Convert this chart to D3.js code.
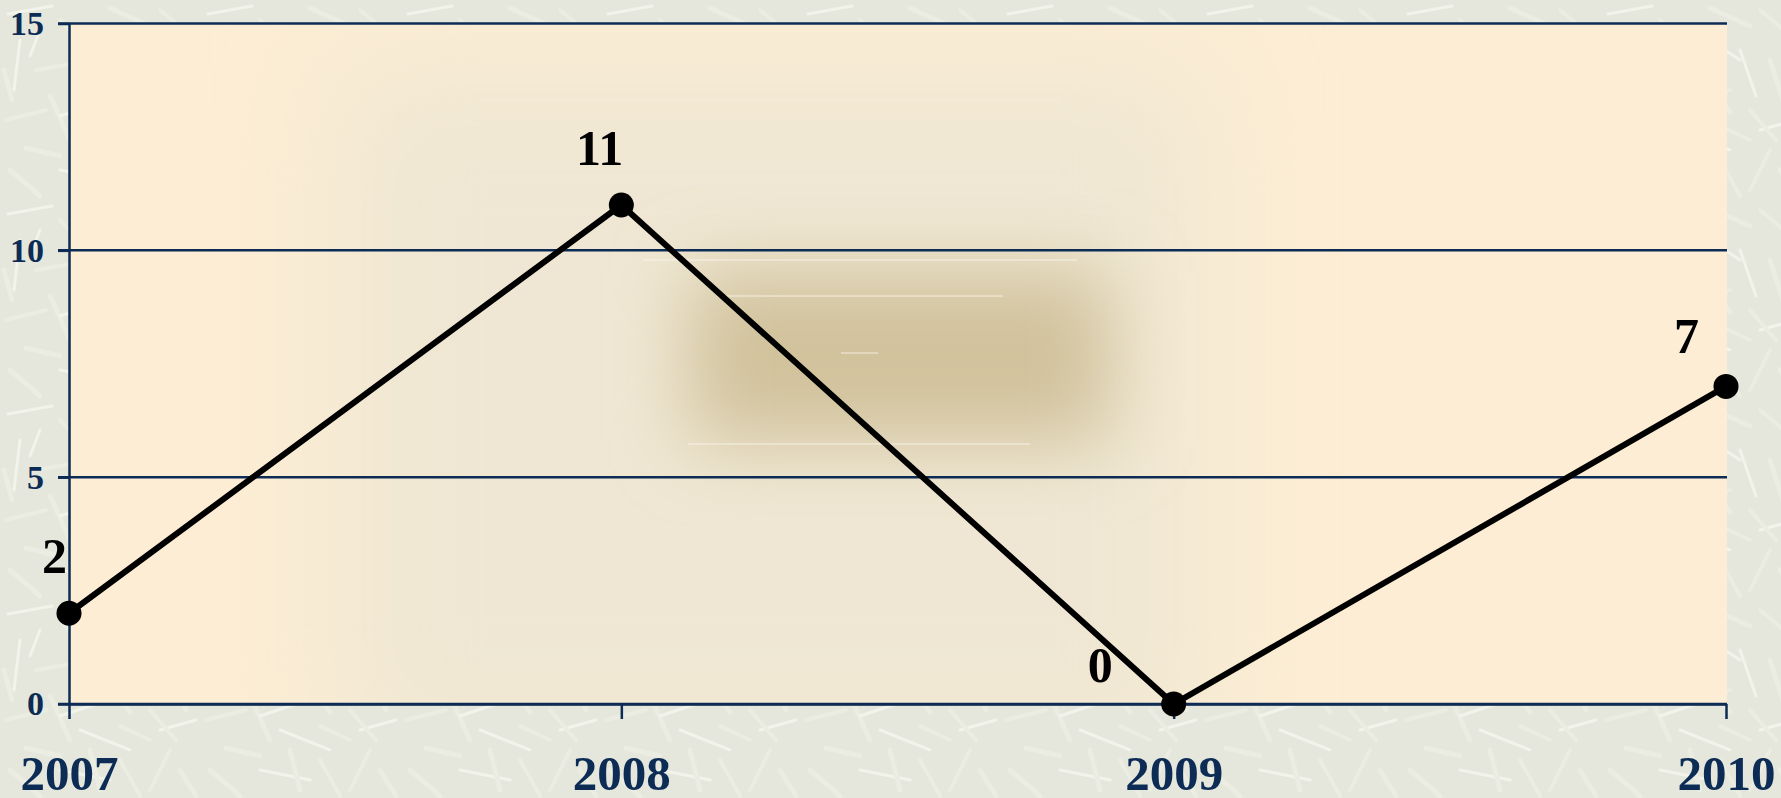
<!DOCTYPE html>
<html>
<head>
<meta charset="utf-8">
<script src="https://cdn.jsdelivr.net/npm/d3@7/dist/d3.min.js"></script>
<style>
  body { margin: 0; overflow: hidden; }
  svg { display: block; }
</style>
</head>
<body>
<div id="chart"></div>
<script>
// data
let years = ['2007', '2008', '2009', '2010'];
let values = [2, 11, 0, 7];
let y_ticks = [0, 5, 10, 15];

// label placement around each point (dx, dy from the marker), set by hand like the original
let label_offsets = [[-2, -40], [2, -40], [-61, -22], [-27, -33]];

let svg_width = 1781;
let svg_height = 798;

let plot_left = 69;
let plot_right = 1727;
let plot_top = 23.5;
let plot_bottom = 704;

let navy = '#0c2b55';
let serif = 'Times New Roman, Liberation Serif, serif';

let svg = d3.select('#chart')
    .append('svg')
    .attr('width', svg_width)
    .attr('height', svg_height);

let defs = svg.append('defs');

// scratchy grey-green texture of the slide background
let pat = defs.append('pattern')
    .attr('id', 'texture')
    .attr('width', 200)
    .attr('height', 200)
    .attr('patternUnits', 'userSpaceOnUse');
pat.append('rect').attr('width', 200).attr('height', 200).attr('fill', '#e5e7dc');
let scratches = [
    [8, 14, 52, 6], [60, 20, 96, 58], [110, 8, 150, 26], [20, 40, 14, 90],
    [36, 70, 84, 62], [100, 70, 130, 112], [140, 50, 156, 96], [6, 120, 46, 110],
    [50, 96, 70, 140], [80, 130, 130, 150], [120, 126, 150, 140], [26, 148, 60, 156],
    [90, 30, 70, 48], [130, 90, 104, 100], [4, 70, 12, 100], [60, 116, 96, 104],
    [160, 10, 196, 40], [170, 60, 186, 110], [160, 130, 196, 120], [170, 150, 150, 190],
    [10, 170, 40, 196], [60, 170, 110, 180], [120, 160, 140, 196], [180, 170, 196, 196],
    [40, 30, 30, 56], [150, 110, 176, 140], [90, 150, 100, 190], [110, 40, 140, 60]
];
pat.selectAll('line')
    .data(scratches)
    .enter()
    .append('line')
    .attr('x1', d => d[0]).attr('y1', d => d[1])
    .attr('x2', d => d[2]).attr('y2', d => d[3])
    .attr('stroke', (d, i) => i % 3 === 0 ? '#f2f3ea' : '#ebede3')
    .attr('stroke-width', (d, i) => 3 + (i % 3))
    .attr('stroke-linecap', 'round');

defs.append('filter').attr('id', 'blur_big')
    .attr('x', '-50%').attr('y', '-50%').attr('width', '200%').attr('height', '200%')
    .append('feGaussianBlur').attr('stdDeviation', 60);
defs.append('filter').attr('id', 'blur_small')
    .attr('x', '-50%').attr('y', '-50%').attr('width', '200%').attr('height', '200%')
    .append('feGaussianBlur').attr('stdDeviation', 38);

defs.append('clipPath').attr('id', 'plot_clip')
    .append('rect')
    .attr('x', plot_left).attr('y', plot_top)
    .attr('width', plot_right - plot_left).attr('height', plot_bottom - plot_top);

svg.append('rect')
    .attr('width', svg_width)
    .attr('height', svg_height)
    .attr('fill', 'url(#texture)');

// scales
let x = d3.scalePoint()
    .domain(years)
    .range([plot_left, plot_right - 1])
    .padding(0);

let y = d3.scaleLinear()
    .domain([0, 15])
    .range([plot_bottom, plot_top]);

// plot area with its blurry brownish centre
let plot_bg = svg.append('g').attr('clip-path', 'url(#plot_clip)');
plot_bg.append('rect')
    .attr('x', plot_left).attr('y', plot_top)
    .attr('width', plot_right - plot_left).attr('height', plot_bottom - plot_top)
    .attr('fill', '#fcedd4');
plot_bg.append('rect')
    .attr('x', 340).attr('y', 70)
    .attr('width', 860).attr('height', 690)
    .attr('fill', '#efe7d3')
    .attr('filter', 'url(#blur_big)');
plot_bg.append('rect')
    .attr('x', 690).attr('y', 272)
    .attr('width', 420).attr('height', 170)
    .attr('fill', '#d1c29c')
    .attr('filter', 'url(#blur_small)');

// faint white streaks left in the centre
let streaks = [[643, 1077, 260], [717, 1003, 296], [688, 1030, 444], [841, 878, 353]];
plot_bg.selectAll('.streak')
    .data(streaks)
    .enter()
    .append('line')
    .attr('class', 'streak')
    .attr('x1', d => d[0]).attr('x2', d => d[1])
    .attr('y1', d => d[2]).attr('y2', d => d[2])
    .attr('stroke', '#fbf8ee')
    .attr('stroke-width', 1.2)
    .attr('opacity', 0.8);

// horizontal gridlines (tick stubs stick out to the left)
svg.selectAll('.grid')
    .data(y_ticks)
    .enter()
    .append('line')
    .attr('class', 'grid')
    .attr('x1', plot_left - 11)
    .attr('x2', plot_right)
    .attr('y1', d => y(d))
    .attr('y2', d => y(d))
    .attr('stroke', navy)
    .attr('stroke-width', 2.5);

// y axis
let y_axis = svg.append('g')
    .attr('transform', 'translate(' + plot_left + ',0)')
    .call(d3.axisLeft(y).tickValues(y_ticks).tickSize(11).tickSizeOuter(0).tickPadding(14));
y_axis.select('.domain').attr('stroke', navy).attr('stroke-width', 2.5);
y_axis.selectAll('line').attr('stroke', navy).attr('stroke-width', 2.5);
y_axis.selectAll('text')
    .attr('fill', navy)
    .attr('font-family', serif)
    .attr('font-weight', 'bold')
    .attr('font-size', 34);

// x axis
let x_axis = svg.append('g')
    .attr('transform', 'translate(0,' + plot_bottom + ')')
    .call(d3.axisBottom(x).tickSize(15).tickSizeOuter(0));
x_axis.select('.domain').attr('stroke', navy).attr('stroke-width', 2.5);
x_axis.selectAll('line').attr('stroke', navy).attr('stroke-width', 2.5);
x_axis.selectAll('text')
    .attr('y', 86)
    .attr('dy', 0)
    .attr('fill', navy)
    .attr('font-family', serif)
    .attr('font-weight', 'bold')
    .attr('font-size', 49);

// the line and its markers
let line = d3.line()
    .x((d, i) => x(years[i]))
    .y(d => y(d));

svg.append('path')
    .datum(values)
    .attr('d', line)
    .attr('fill', 'none')
    .attr('stroke', '#000')
    .attr('stroke-width', 6)
    .attr('stroke-linejoin', 'miter');

svg.selectAll('.dot')
    .data(values)
    .enter()
    .append('circle')
    .attr('class', 'dot')
    .attr('cx', (d, i) => x(years[i]))
    .attr('cy', d => y(d))
    .attr('r', 12.5)
    .attr('fill', '#000');

// value labels
svg.selectAll('.value')
    .data(values)
    .enter()
    .append('text')
    .attr('class', 'value')
    .text(d => d)
    .attr('x', (d, i) => x(years[i]) + label_offsets[i][0])
    .attr('y', (d, i) => y(d) + label_offsets[i][1])
    .attr('text-anchor', 'end')
    .attr('font-family', serif)
    .attr('font-weight', 'bold')
    .attr('font-size', 50)
    .attr('fill', '#000');
</script>
</body>
</html>
